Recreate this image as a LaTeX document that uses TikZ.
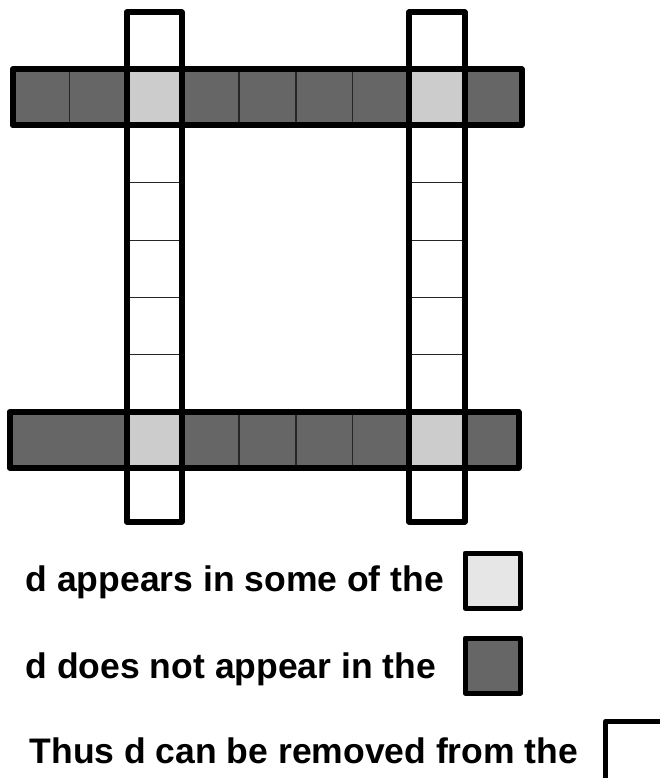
\documentclass[tikz,border=0pt]{standalone}
\usepackage{fontspec}
\setmainfont{Liberation Sans}
\definecolor{darkc}{HTML}{666666}
\definecolor{lightc}{HTML}{CCCCCC}
\definecolor{legendlight}{HTML}{E6E6E6}
\begin{document}
\begin{tikzpicture}[x=1pt,y=-1pt,
  outline/.style={draw=black,line width=6pt,line join=round},
  divider/.style={draw=black!85,line width=1.2pt},
  legendbox/.style={draw=black,line width=5pt,line join=round},
  legendtext/.style={anchor=base west,inner sep=0pt,font=\fontsize{35.5pt}{40pt}\selectfont\bfseries}]
\useasboundingbox (0,0) rectangle (660,778);
\fill[white] (0,0) rectangle (660,778);
% ---- top row ----
\fill[darkc] (12.5,69.5) rectangle (521.5,125.5);
\fill[lightc] (126.5,69.5) rectangle (181.5,125.5);
\fill[lightc] (409,69.5) rectangle (464.5,125.5);
\foreach \x in {69.5,239,296,352.5} \draw[divider] (\x,69.5) -- (\x,125.5);
% ---- bottom row ----
\fill[darkc] (9.5,412) rectangle (518.5,467.5);
\fill[lightc] (126.5,412) rectangle (181.5,467.5);
\fill[lightc] (409,412) rectangle (464.5,467.5);
\foreach \x in {239,296,352.5} \draw[divider] (\x,412) -- (\x,467.5);
% ---- column dividers ----
\foreach \y in {182.8,240.1,297.4,354.7} {
  \draw[divider] (126.5,\y) -- (181.5,\y);
  \draw[divider] (409,\y) -- (464.5,\y);
}
% ---- outlines ----
\draw[outline] (12.5,69.5) rectangle (521.5,125.5);
\draw[outline] (9.5,412) rectangle (518.5,467.5);
\draw[outline] (126.5,12.5) rectangle (181.5,521.5);
\draw[outline] (409,12.5) rectangle (464.5,521.5);
% ---- legend ----
\node[legendtext] (t1) at (25.5,591) {d appears in some of the};
\draw[legendbox,fill=legendlight] (465,553) rectangle (520.5,608);
\node[legendtext] (t2) at (25.5,678) {d does not appear in the};
\draw[legendbox,fill=darkc] (465,638) rectangle (520.5,693);
\node[legendtext] (t3) at (29.5,763) {Thus d can be removed from the};
\draw[legendbox,fill=white] (605.5,721.5) rectangle (670,781);
\end{tikzpicture}
\end{document}
